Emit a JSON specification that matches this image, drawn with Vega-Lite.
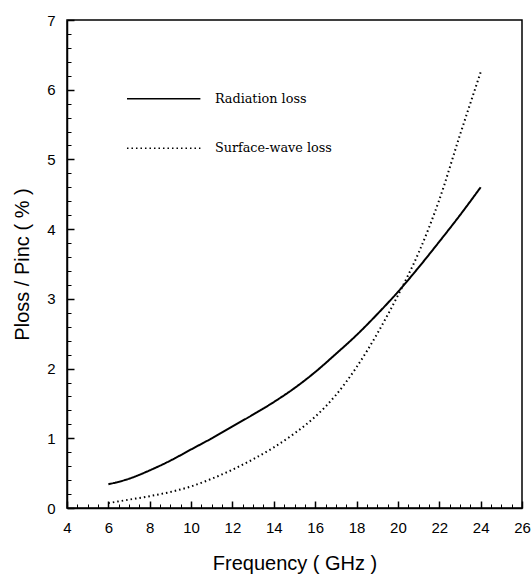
{
  "$schema": "https://vega.github.io/schema/vega-lite/v6.json",
  "width": 455,
  "height": 488,
  "autosize": "none",
  "padding": {"left": 67, "top": 20, "right": 9, "bottom": 68},
  "background": "white",
  "config": {
    "view": {"stroke": "black", "strokeWidth": 1.5},
    "axis": {
      "domainColor": "#000000",
      "domainWidth": 1.5,
      "tickColor": "#000000",
      "tickWidth": 1.5,
      "labelColor": "#000000",
      "titleColor": "#000000",
      "labelFont": "Liberation Sans",
      "labelFontSize": 15,
      "titleFont": "Liberation Sans",
      "titleFontSize": 20,
      "titleFontWeight": "normal",
      "grid": false
    }
  },
  "datasets": {
    "curves": [
      {"f": 6, "v": 0.34, "series": "Radiation loss"},
      {"f": 7, "v": 0.42, "series": "Radiation loss"},
      {"f": 8, "v": 0.54, "series": "Radiation loss"},
      {"f": 9, "v": 0.68, "series": "Radiation loss"},
      {"f": 10, "v": 0.84, "series": "Radiation loss"},
      {"f": 11, "v": 1.0, "series": "Radiation loss"},
      {"f": 12, "v": 1.17, "series": "Radiation loss"},
      {"f": 13, "v": 1.34, "series": "Radiation loss"},
      {"f": 14, "v": 1.52, "series": "Radiation loss"},
      {"f": 15, "v": 1.72, "series": "Radiation loss"},
      {"f": 16, "v": 1.95, "series": "Radiation loss"},
      {"f": 17, "v": 2.21, "series": "Radiation loss"},
      {"f": 18, "v": 2.48, "series": "Radiation loss"},
      {"f": 19, "v": 2.78, "series": "Radiation loss"},
      {"f": 20, "v": 3.1, "series": "Radiation loss"},
      {"f": 21, "v": 3.45, "series": "Radiation loss"},
      {"f": 22, "v": 3.82, "series": "Radiation loss"},
      {"f": 23, "v": 4.2, "series": "Radiation loss"},
      {"f": 24, "v": 4.6, "series": "Radiation loss"},
      {"f": 6, "v": 0.07, "series": "Surface-wave loss"},
      {"f": 7, "v": 0.12, "series": "Surface-wave loss"},
      {"f": 8, "v": 0.17, "series": "Surface-wave loss"},
      {"f": 9, "v": 0.23, "series": "Surface-wave loss"},
      {"f": 10, "v": 0.31, "series": "Surface-wave loss"},
      {"f": 11, "v": 0.42, "series": "Surface-wave loss"},
      {"f": 12, "v": 0.55, "series": "Surface-wave loss"},
      {"f": 13, "v": 0.7, "series": "Surface-wave loss"},
      {"f": 14, "v": 0.87, "series": "Surface-wave loss"},
      {"f": 15, "v": 1.07, "series": "Surface-wave loss"},
      {"f": 16, "v": 1.31, "series": "Surface-wave loss"},
      {"f": 17, "v": 1.62, "series": "Surface-wave loss"},
      {"f": 18, "v": 2.02, "series": "Surface-wave loss"},
      {"f": 19, "v": 2.5, "series": "Surface-wave loss"},
      {"f": 20, "v": 3.05, "series": "Surface-wave loss"},
      {"f": 21, "v": 3.66, "series": "Surface-wave loss"},
      {"f": 22, "v": 4.42, "series": "Surface-wave loss"},
      {"f": 23, "v": 5.35, "series": "Surface-wave loss"},
      {"f": 24, "v": 6.25, "series": "Surface-wave loss"}
    ],
    "legend": [
      {"series": "Radiation loss", "x1": 6.9, "x2": 10.45, "y": 5.87, "tx": 11.15},
      {"series": "Surface-wave loss", "x1": 6.9, "x2": 10.45, "y": 5.16, "tx": 11.15}
    ]
  },
  "resolve": {"axis": {"x": "independent", "y": "independent"}},
  "layer": [
    {
      "data": {"name": "curves"},
      "mark": {"type": "line", "color": "black", "strokeWidth": 2, "interpolate": "monotone"},
      "encoding": {
        "x": {
          "field": "f", "type": "quantitative",
          "scale": {"domain": [4, 26], "nice": false, "zero": false},
          "axis": {
            "orient": "bottom",
            "title": "Frequency ( GHz )",
            "values": [4, 6, 8, 10, 12, 14, 16, 18, 20, 22, 24, 26],
            "ticks": true,
            "tickSize": -7,
            "labelPadding": 19,
            "labelFlush": false,
            "labelOverlap": false,
            "titlePadding": 18
          }
        },
        "y": {
          "field": "v", "type": "quantitative",
          "scale": {"domain": [0, 7], "nice": false},
          "axis": {
            "orient": "left",
            "title": "Ploss / Pinc ( % )",
            "values": [0, 1, 2, 3, 4, 5, 6, 7],
            "ticks": true,
            "tickSize": -7,
            "labelPadding": 19,
            "labelFlush": false,
            "labelOverlap": false,
            "titlePadding": 14
          }
        },
        "strokeDash": {
          "field": "series", "type": "nominal",
          "scale": {"domain": ["Radiation loss", "Surface-wave loss"], "range": [[1, 0], [1.5, 3]]},
          "legend": null
        }
      }
    },
    {
      "data": {"name": "legend"},
      "mark": {"type": "rule", "color": "black", "strokeWidth": 1.5},
      "encoding": {
        "x": {
          "field": "x1", "type": "quantitative",
          "axis": {
            "orient": "bottom",
            "title": null,
            "values": [4.5, 5, 5.5, 6.5, 7, 7.5, 8.5, 9, 9.5, 10.5, 11, 11.5, 12.5, 13, 13.5, 14.5, 15, 15.5, 16.5, 17, 17.5, 18.5, 19, 19.5, 20.5, 21, 21.5, 22.5, 23, 23.5, 24.5, 25, 25.5],
            "labels": false,
            "domain": false,
            "ticks": true,
            "tickWidth": 1,
            "tickSize": -4
          }
        },
        "x2": {"field": "x2"},
        "y": {
          "field": "y", "type": "quantitative",
          "axis": {
            "orient": "left",
            "title": null,
            "values": [0.2, 0.4, 0.6, 0.8, 1.2, 1.4, 1.6, 1.8, 2.2, 2.4, 2.6, 2.8, 3.2, 3.4, 3.6, 3.8, 4.2, 4.4, 4.6, 4.8, 5.2, 5.4, 5.6, 5.8, 6.2, 6.4, 6.6, 6.8],
            "labels": false,
            "domain": false,
            "ticks": true,
            "tickWidth": 1,
            "tickSize": -4
          }
        },
        "strokeDash": {"field": "series", "type": "nominal", "legend": null}
      }
    },
    {
      "data": {"name": "legend"},
      "mark": {"type": "text", "align": "left", "baseline": "middle", "font": "DejaVu Serif", "fontSize": 12.8, "color": "black"},
      "encoding": {
        "x": {"field": "tx", "type": "quantitative", "axis": null},
        "y": {"field": "y", "type": "quantitative", "axis": null},
        "text": {"field": "series"}
      }
    }
  ]
}
